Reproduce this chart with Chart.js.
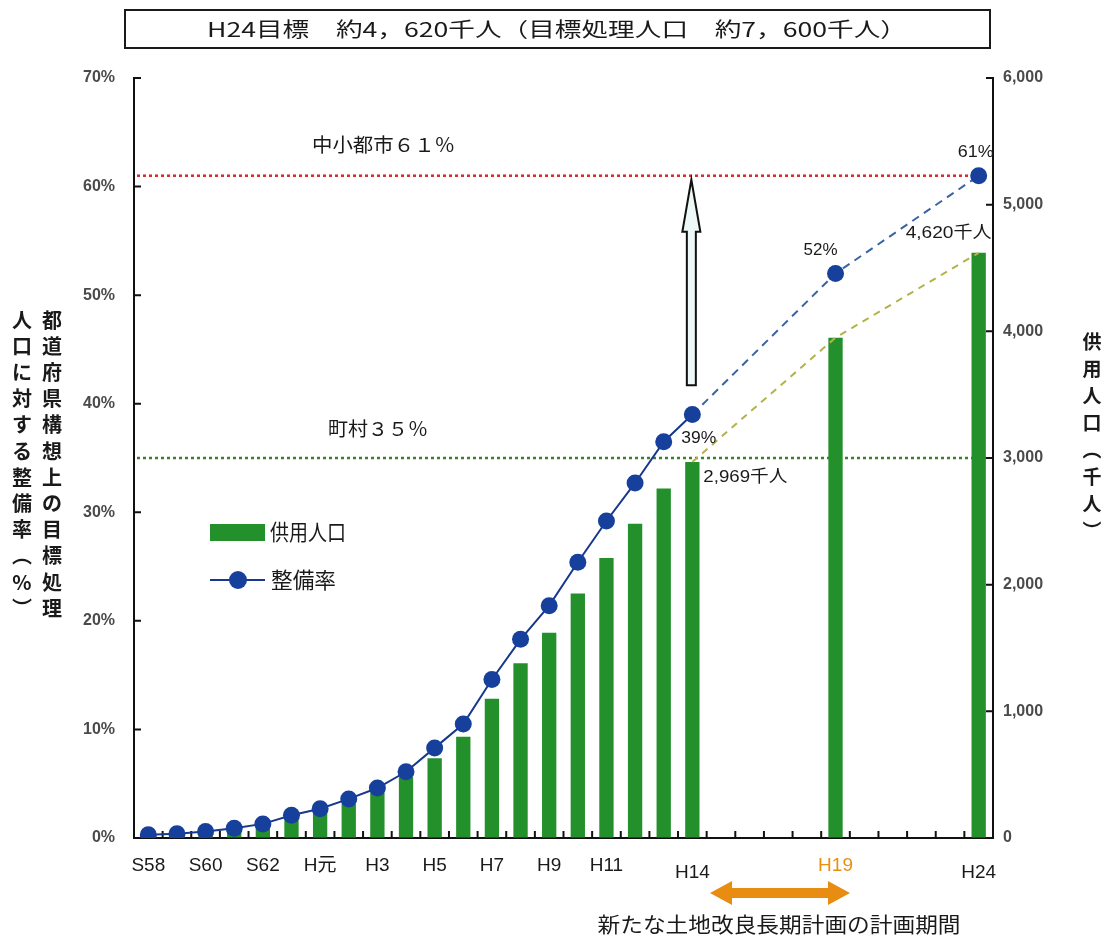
<!DOCTYPE html>
<html lang="ja">
<head>
<meta charset="utf-8">
<title>供用人口と整備率の推移</title>
<script src="https://cdn.jsdelivr.net/npm/chart.js@4.4.1/dist/chart.umd.min.js"></script>
<style>
  html, body { margin: 0; padding: 0; background: #ffffff; }
  #wrap { position: relative; width: 1107px; height: 936px; }
  canvas { display: block; }
</style>
</head>
<body>
<div id="wrap"><canvas id="chart" width="1107" height="936"></canvas></div>
<script>
// Fiscal years: Showa 58 through Heisei 24
const categories = ['S58','S59','S60','S61','S62','S63','H元','H2','H3','H4','H5','H6','H7','H8','H9','H10',
                    'H11','H12','H13','H14','H15','H16','H17','H18','H19','H20','H21','H22','H23','H24'];
// Years that carry a label on the horizontal axis
const tickLabels = ['S58','S60','S62','H元','H3','H5','H7','H9','H11','H14','H19','H24'];
// Labels set slightly lower under the axis
const loweredLabels = ['H14','H24'];
// Served population (thousand people); H19 and H24 are plan values
const servedPopulation = [5,10,20,40,90,140,200,270,360,480,630,800,1100,1380,1620,1930,2210,2480,2760,2969,
                          null,null,null,null,3950,null,null,null,null,4620];
// Coverage rate against the prefectural target population (%)
const coverageRate = [0.3,0.4,0.6,0.9,1.3,2.1,2.7,3.6,4.6,6.1,8.3,10.5,14.6,18.3,21.4,25.4,29.2,32.7,36.5,39,
                      null,null,null,null,52,null,null,null,null,61];
// Reference levels (%)
const targetValues = [61, 35];
const targetLabels = ['中小都市６１％', '町村３５％'];
// Index of the last actual year (H14); later points are planned
const lastActual = categories.indexOf('H14');

const GREEN = '#23902b';
const NAVY = '#17388c';
const FONT_CJK = "'Noto Sans CJK JP', 'Noto Sans', sans-serif";
const FONT_NUM = "'Liberation Sans Narrow', 'Liberation Sans', 'Noto Sans CJK JP', sans-serif";

// Planned growth of the served population, drawn as a dashed guide over the bar tops
const populationOutlook = servedPopulation.map((v, i) => (i >= lastActual ? v : null));

function fitText(ctx, text, cx, cy, width, font, color, align) {
  ctx.save();
  ctx.font = font;
  ctx.fillStyle = color;
  ctx.textBaseline = 'middle';
  const w = ctx.measureText(text).width;
  const s = width ? width / w : 1;
  let x0 = cx;
  if (align === 'center') x0 = cx - (w * s) / 2;
  else if (align === 'right') x0 = cx - w * s;
  ctx.translate(x0, cy);
  ctx.scale(s, 1);
  ctx.textAlign = 'left';
  ctx.fillText(text, 0, 0);
  ctx.restore();
}

function verticalText(ctx, text, cx, y0, step, font, color) {
  ctx.save();
  ctx.font = font;
  ctx.fillStyle = color;
  ctx.textAlign = 'center';
  ctx.textBaseline = 'middle';
  [...text].forEach((ch, i) => ctx.fillText(ch, cx, y0 + i * step));
  ctx.restore();
}

const decorations = {
  id: 'decorations',
  beforeDatasetsDraw(chart) {
    const { ctx, chartArea } = chart;
    const yL = chart.scales.y;
    // dotted reference levels
    const colors = ['#e0262a', '#3f7f2c'];
    ctx.save();
    ctx.lineWidth = 2.5;
    ctx.setLineDash([3, 3]);
    targetValues.forEach((v, i) => {
      const y = yL.getPixelForValue(v);
      ctx.strokeStyle = colors[i];
      ctx.beginPath();
      ctx.moveTo(chartArea.left + 3, y);
      ctx.lineTo(chartArea.right - 6, y);
      ctx.stroke();
    });
    ctx.restore();

    // inward tick marks on all three axes
    const xs = chart.scales.x, yR = chart.scales.yR;
    ctx.save();
    ctx.strokeStyle = '#111';
    ctx.lineWidth = 2;
    ctx.beginPath();
    yL.ticks.forEach((t, i) => {
      const y = yL.getPixelForTick(i);
      ctx.moveTo(chartArea.left, y); ctx.lineTo(chartArea.left + 7, y);
    });
    yR.ticks.forEach((t, i) => {
      const y = yR.getPixelForTick(i);
      ctx.moveTo(chartArea.right, y); ctx.lineTo(chartArea.right - 7, y);
    });
    const step = xs.getPixelForValue(1) - xs.getPixelForValue(0);
    for (let i = 1; i < categories.length; i++) {
      const x = xs.getPixelForValue(i) - step / 2;
      ctx.moveTo(x, chartArea.bottom); ctx.lineTo(x, chartArea.bottom - 7);
    }
    ctx.stroke();
    ctx.restore();
  },
  afterDraw(chart) {
    const { ctx } = chart;
    const xs = chart.scales.x, yL = chart.scales.y, yR = chart.scales.yR;

    // title box
    ctx.save();
    ctx.strokeStyle = '#1a1a1a';
    ctx.lineWidth = 2;
    ctx.strokeRect(125, 10, 865, 38);
    ctx.restore();
    fitText(ctx, 'H24目標　約4，620千人（目標処理人口　約7，600千人）', 557, 29, 700, `20px ${FONT_CJK}`, '#1a1a1a', 'center');

    // reference level captions
    fitText(ctx, targetLabels[0], 312, yL.getPixelForValue(targetValues[0]) - 31, 143, `19px ${FONT_CJK}`, '#1a1a1a', 'left');
    fitText(ctx, targetLabels[1], 328, yL.getPixelForValue(targetValues[1]) - 29, 100, `19px ${FONT_CJK}`, '#1a1a1a', 'left');

    // hollow arrow above H14 rising to the 61% level
    const ax = xs.getPixelForValue(lastActual) - 1;
    const tipY = yL.getPixelForValue(targetValues[0]) + 4;
    const baseY = yL.getPixelForValue(41.7);
    const headY = tipY + 52;
    ctx.save();
    ctx.beginPath();
    ctx.moveTo(ax, tipY);
    ctx.lineTo(ax + 9, headY);
    ctx.lineTo(ax + 4.5, headY);
    ctx.lineTo(ax + 4.5, baseY);
    ctx.lineTo(ax - 4.5, baseY);
    ctx.lineTo(ax - 4.5, headY);
    ctx.lineTo(ax - 9, headY);
    ctx.closePath();
    ctx.fillStyle = '#eef8f7';
    ctx.fill();
    ctx.strokeStyle = '#111';
    ctx.lineWidth = 2;
    ctx.stroke();
    ctx.restore();

    // value captions on the actual and planned points
    const cap = (t, x, y, w, align) => fitText(ctx, t, x, y, w, `17px ${FONT_NUM}`, '#1a1a1a', align);
    const i19 = categories.indexOf('H19'), i24 = categories.indexOf('H24');
    cap(coverageRate[lastActual] + '%', xs.getPixelForValue(lastActual) - 11, yL.getPixelForValue(coverageRate[lastActual]) + 24, 35, 'left');
    cap(servedPopulation[lastActual].toLocaleString('en-US') + '千人', xs.getPixelForValue(lastActual) + 11, yR.getPixelForValue(servedPopulation[lastActual]) + 15, 84, 'left');
    cap(coverageRate[i19] + '%', xs.getPixelForValue(i19) - 15, yL.getPixelForValue(coverageRate[i19]) - 23, 34, 'center');
    cap(servedPopulation[i24].toLocaleString('en-US') + '千人', xs.getPixelForValue(i24) + 13, yR.getPixelForValue(servedPopulation[i24]) - 19, 86, 'right');
    cap(coverageRate[i24] + '%', xs.getPixelForValue(i24) - 3, yL.getPixelForValue(coverageRate[i24]) - 23, 36, 'center');

    // legend
    ctx.save();
    ctx.fillStyle = GREEN;
    ctx.fillRect(210, 524, 55, 17);
    ctx.strokeStyle = NAVY;
    ctx.lineWidth = 2;
    ctx.beginPath(); ctx.moveTo(210, 580); ctx.lineTo(265, 580); ctx.stroke();
    ctx.fillStyle = '#17409c';
    ctx.beginPath(); ctx.arc(238, 580, 9, 0, Math.PI * 2); ctx.fill();
    ctx.restore();
    fitText(ctx, '供用人口', 270, 532, 76, `22px ${FONT_CJK}`, '#1a1a1a', 'left');
    fitText(ctx, '整備率', 271, 580, 65, `22px ${FONT_CJK}`, '#1a1a1a', 'left');

    // axis titles (vertical)
    verticalText(ctx, '都道府県構想上の目標処理', 52, 320, 26.2, `bold 20px ${FONT_CJK}`, '#1a1a1a');
    verticalText(ctx, '人口に対する整備率︵%︶', 22, 320, 26.2, `bold 20px ${FONT_CJK}`, '#1a1a1a');
    verticalText(ctx, '供用人口︵千人︶', 1092, 342, 27, `bold 19px ${FONT_CJK}`, '#1a1a1a');

    // planning period of the new long-term land improvement plan
    const px0 = 710, px1 = 850, py = 893;
    ctx.save();
    ctx.fillStyle = '#e88d12';
    ctx.beginPath();
    ctx.moveTo(px0, py);
    ctx.lineTo(px0 + 22, py - 12);
    ctx.lineTo(px0 + 22, py - 5);
    ctx.lineTo(px1 - 22, py - 5);
    ctx.lineTo(px1 - 22, py - 12);
    ctx.lineTo(px1, py);
    ctx.lineTo(px1 - 22, py + 12);
    ctx.lineTo(px1 - 22, py + 5);
    ctx.lineTo(px0 + 22, py + 5);
    ctx.lineTo(px0 + 22, py + 12);
    ctx.closePath();
    ctx.fill();
    ctx.restore();
    fitText(ctx, '新たな土地改良長期計画の計画期間', 779, 924, 363, `21px ${FONT_CJK}`, '#1a1a1a', 'center');
  }
};

const ctx = document.getElementById('chart').getContext('2d');
new Chart(ctx, {
  data: {
    labels: categories,
    datasets: [
      {
        type: 'line',
        label: '整備率',
        data: coverageRate,
        yAxisID: 'y',
        order: 1,
        spanGaps: true,
        borderColor: NAVY,
        borderWidth: 2,
        pointRadius: 8.5,
        pointHoverRadius: 8.5,
        pointBackgroundColor: '#17409c',
        pointBorderColor: '#17409c',
        pointBorderWidth: 0,
        tension: 0,
        segment: {
          borderDash: c => (c.p0DataIndex >= lastActual ? [8, 6] : undefined),
          borderColor: c => (c.p0DataIndex >= lastActual ? '#3b63a3' : NAVY)
        }
      },
      {
        type: 'line',
        label: '供用人口見通し',
        data: populationOutlook,
        yAxisID: 'yR',
        order: 2,
        spanGaps: true,
        borderColor: '#b3b24a',
        borderWidth: 2,
        borderDash: [7, 6],
        pointRadius: 0,
        tension: 0
      },
      {
        type: 'bar',
        label: '供用人口',
        data: servedPopulation,
        yAxisID: 'yR',
        order: 3,
        backgroundColor: GREEN,
        borderWidth: 0,
        barPercentage: 0.5,
        categoryPercentage: 1
      }
    ]
  },
  options: {
    responsive: false,
    animation: false,
    layout: { padding: { top: 78, left: 0, right: 0, bottom: 0 } },
    plugins: { legend: { display: false }, tooltip: { enabled: false } },
    scales: {
      x: {
        type: 'category',
        offset: true,
        grid: { display: true, offset: true, drawOnChartArea: false, drawTicks: false },
        border: { display: true, color: '#111', width: 2 },
        ticks: {
          autoSkip: false,
          maxRotation: 0,
          padding: 16,
          font: c => ({
            family: FONT_NUM,
            size: 19,
            lineHeight: loweredLabels.includes(categories[c.index]) ? 2.0 : 1.2
          }),
          color: c => (categories[c.index] === 'H19' ? '#e8900e' : '#1a1a1a'),
          callback: (v, i) => (tickLabels.includes(categories[i]) ? categories[i] : '')
        },
        afterFit: s => { s.height = 98; }
      },
      y: {
        position: 'left',
        min: 0, max: 70,
        grid: { display: true, drawOnChartArea: false, drawTicks: false },
        border: { display: true, color: '#111', width: 2 },
        ticks: {
          stepSize: 10,
          padding: 19,
          font: { family: "'Liberation Sans', sans-serif", size: 16, weight: 'bold' },
          color: '#4a4a4a',
          callback: v => v + '%'
        },
        afterFit: s => { s.width = 134; }
      },
      yR: {
        position: 'right',
        min: 0, max: 6000,
        grid: { display: true, drawOnChartArea: false, drawTicks: false },
        border: { display: true, color: '#111', width: 2 },
        ticks: {
          stepSize: 1000,
          padding: 10,
          font: { family: "'Liberation Sans', sans-serif", size: 16, weight: 'bold' },
          color: '#4a4a4a',
          callback: v => v.toLocaleString('en-US')
        },
        afterFit: s => { s.width = 114; }
      }
    }
  },
  plugins: [decorations]
});
</script>
</body>
</html>
